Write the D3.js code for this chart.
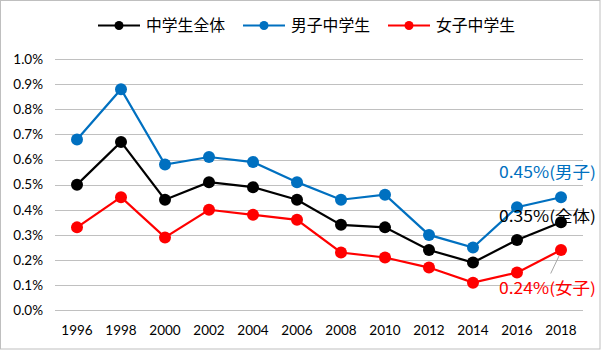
<!DOCTYPE html>
<html><head><meta charset="utf-8">
<script src="https://cdn.jsdelivr.net/npm/d3@7"></script>
<style>body{margin:0;background:#fff}</style>
</head><body>
<script>
const years = ["1996","1998","2000","2002","2004","2006","2008","2010","2012","2014","2016","2018"];
const seriesNames = ["中学生全体","男子中学生","女子中学生"];
const totalValues = [0.50,0.67,0.44,0.51,0.49,0.44,0.34,0.33,0.24,0.19,0.28,0.35];
const boysValues  = [0.68,0.88,0.58,0.61,0.59,0.51,0.44,0.46,0.30,0.25,0.41,0.45];
const girlsValues = [0.33,0.45,0.29,0.40,0.38,0.36,0.23,0.21,0.17,0.11,0.15,0.24];
const yTicks = [0,0.1,0.2,0.3,0.4,0.5,0.6,0.7,0.8,0.9,1.0];
const endLabels = ["0.45%(男子)","0.35%(全体)","0.24%(女子)"];
const colors = ["#000000","#0070C0","#FF0000"];

const W=601,H=350;
const svg=d3.select("body").append("svg").attr("width",W).attr("height",H);
svg.append("rect").attr("x",0.5).attr("y",0.5).attr("width",W-1.5).attr("height",H-1.5)
  .attr("fill","#fff").attr("stroke","#BFBFBF");

const x=d3.scaleBand().domain(years).range([55,583]);
const y=d3.scaleLinear().domain([0,1.0]).range([310.3,59]);
const cx=d=>x(d)+x.bandwidth()/2;

// grid
svg.append("g").selectAll("line").data(yTicks).join("line")
  .attr("x1",55).attr("x2",583).attr("y1",d=>Math.round(y(d))+0.5).attr("y2",d=>Math.round(y(d))+0.5)
  .attr("stroke","#C0C0C0").attr("stroke-width",1);

const tickFont="Lato, 'Liberation Sans', sans-serif";
svg.append("g").selectAll("text").data(yTicks).join("text")
  .attr("x",43).attr("y",d=>y(d)).attr("dy","0.35em").attr("text-anchor","end")
  .attr("font-family",tickFont).attr("font-size",13.5).attr("fill","#000")
  .text(d=>d3.format(".1f")(d)+"%");
svg.append("g").selectAll("text").data(years).join("text")
  .attr("x",d=>cx(d)).attr("y",330).attr("dy","0.35em").attr("text-anchor","middle")
  .attr("font-family",tickFont).attr("font-size",13.5).attr("fill","#000")
  .text(d=>d);

const allSeries=[totalValues,boysValues,girlsValues];
const line=d3.line().x((d,i)=>cx(years[i])).y(d=>y(d));
allSeries.forEach((vals,s)=>{
  const g=svg.append("g");
  g.append("path").datum(vals).attr("d",line).attr("fill","none")
    .attr("stroke",colors[s]).attr("stroke-width",2.2);
  g.selectAll("circle").data(vals).join("circle")
    .attr("cx",(d,i)=>cx(years[i])).attr("cy",d=>y(d)).attr("r",6)
    .attr("fill",colors[s]);
});

// leader line for girls label
svg.append("line").attr("x1",cx("2018")-2).attr("y1",y(girlsValues[11])+6)
  .attr("x2",550.7).attr("y2",273.5).attr("stroke","#A6A6A6").attr("stroke-width",1);

// end labels
const labFont="'Noto Sans CJK JP', sans-serif";
const labY=[172,216.5,288.5];
const labColors=["#0070C0","#000000","#FF0000"];
endLabels.forEach((t,i)=>{
  svg.append("text").attr("x",499).attr("y",labY[i]).attr("dy","0.36em")
    .attr("font-family",labFont).attr("font-size",15.5).attr("fill",labColors[i])
    .attr("textLength",97).attr("lengthAdjust","spacingAndGlyphs")
    .text(t);
});

// legend
const legX=[98,243,388];
seriesNames.forEach((n,i)=>{
  const g=svg.append("g");
  g.append("line").attr("x1",legX[i]).attr("x2",legX[i]+42).attr("y1",25.5).attr("y2",25.5)
    .attr("stroke",colors[i]).attr("stroke-width",2.2);
  g.append("circle").attr("cx",legX[i]+21).attr("cy",25.5).attr("r",4.5).attr("fill",colors[i]);
  g.append("text").attr("x",legX[i]+48).attr("y",25.5).attr("dy","0.36em")
    .attr("font-family",labFont).attr("font-size",15.8).attr("fill","#000").text(n);
});
</script>
</body></html>
